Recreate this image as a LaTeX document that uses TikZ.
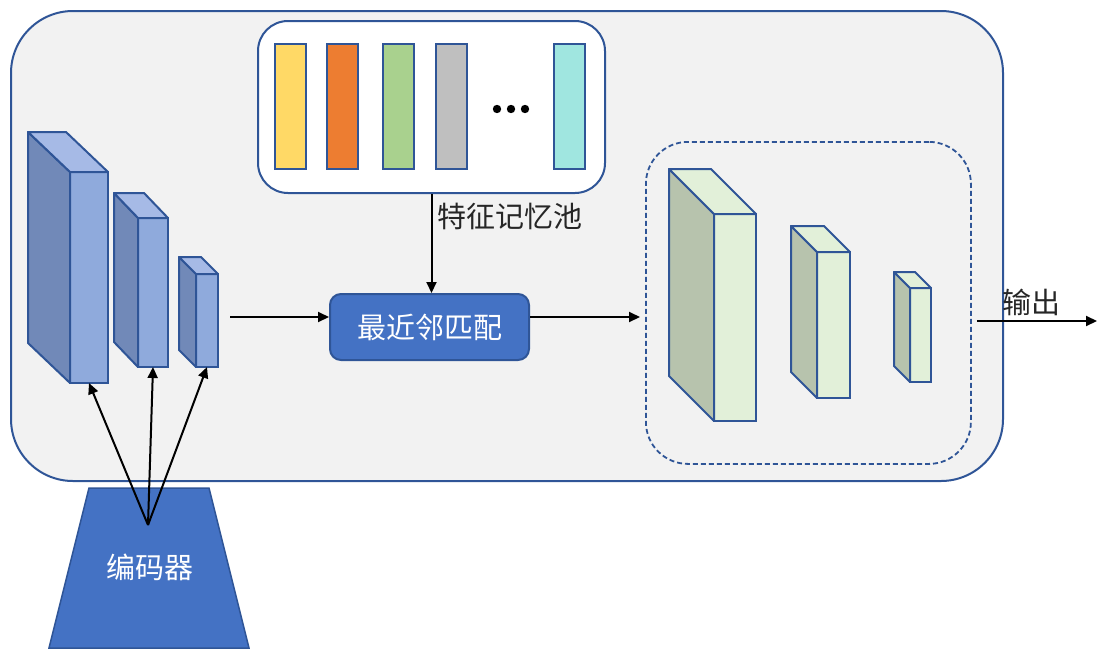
\documentclass[tikz,border=0pt]{standalone}
\usepackage{fontspec}
\setmainfont{Noto Sans CJK SC}
\usetikzlibrary{arrows.meta,calc}
\definecolor{edgeblue}{HTML}{2F5597}
\definecolor{fillblue}{HTML}{4472C4}
\definecolor{panel}{HTML}{F2F2F2}
\definecolor{encfront}{HTML}{8FAADC}
\definecolor{encside}{HTML}{7189B8}
\definecolor{enctop}{HTML}{A6BAE6}
\definecolor{decfront}{HTML}{E2F0D9}
\definecolor{decside}{HTML}{B7C3AD}
\definecolor{dectop}{HTML}{E2F0D9}
\definecolor{cyellow}{HTML}{FFD966}
\definecolor{corange}{HTML}{ED7D31}
\definecolor{cgreen}{HTML}{A9D18E}
\definecolor{cgray}{HTML}{BFBFBF}
\definecolor{ccyan}{HTML}{A0E6E0}
\definecolor{labeltext}{HTML}{262626}
% front face of a block, then its side and top faces from the depth offset
\newcommand{\blockfaces}[5]{%
  \filldraw[facestyle, fill=#4] (#1.north west) -- ++(-#2,-#3)
    -- ($(#1.south west)+(-#2,-#3)$) -- (#1.south west) -- cycle;
  \filldraw[facestyle, fill=#5] (#1.north west) -- ++(-#2,-#3)
    -- ($(#1.north east)+(-#2,-#3)$) -- (#1.north east) -- cycle;
}
\begin{document}
\begin{tikzpicture}[x=1pt, y=-1pt,
  facestyle/.style={draw=edgeblue, line width=2pt, line join=round},
  front/.style={draw=edgeblue, line width=2pt, inner sep=0pt, outer sep=0pt, anchor=north west},
  bar/.style={draw=edgeblue, line width=2pt, inner sep=0pt, outer sep=0pt, anchor=north west,
              minimum width=31pt, minimum height=125pt},
  arrow/.style={draw=black, line width=2pt, -{Triangle[length=11pt, width=10pt]}},
  label/.style={text=labeltext, font=\fontsize{29}{31}\selectfont, inner sep=0pt},
  whitetext/.style={text=white, font=\fontsize{29}{31}\selectfont, inner sep=0pt}]
\useasboundingbox (0,0) rectangle (1097,648);

% outer panel
\node[draw=edgeblue, fill=panel, line width=2pt, rounded corners=62pt, inner sep=0pt,
      minimum width=992pt, minimum height=470pt, anchor=north west] (panel) at (10,10) {};

% feature memory pool
\node[draw=edgeblue, fill=white, line width=2pt, rounded corners=30pt, inner sep=0pt,
      minimum width=347pt, minimum height=172pt, anchor=north west] (mem) at (257,20) {};
\node[bar, fill=cyellow] (m1) at (275,44) {};
\node[bar, fill=corange] (m2) at (327,44) {};
\node[bar, fill=cgreen]  (m3) at (383,44) {};
\node[bar, fill=cgray]   (m4) at (436,44) {};
\node[bar, fill=ccyan]   (m5) at (554,44) {};
\foreach \x in {497,511,525} \fill[black] (\x,109) circle (4.2pt);

% nearest-neighbour matching
\node[draw=edgeblue, fill=fillblue, line width=2pt, rounded corners=11pt, inner sep=0pt,
      minimum width=199pt, minimum height=66pt, anchor=north west] (match) at (329,293) {};
\node[whitetext] at (match.center) {最近邻匹配};

% encoder feature blocks
\node[front, fill=encfront, minimum width=38pt, minimum height=211pt] (e1) at (70,172) {};
\blockfaces{e1}{42}{40}{encside}{enctop}
\node[front, fill=encfront, minimum width=30pt, minimum height=149pt] (e2) at (138,218) {};
\blockfaces{e2}{24}{25}{encside}{enctop}
\node[front, fill=encfront, minimum width=22pt, minimum height=93pt] (e3) at (196,274) {};
\blockfaces{e3}{17}{17}{encside}{enctop}

% decoder region and blocks
\node[draw=edgeblue, dash pattern=on 5pt off 3pt, line width=1.8pt, rounded corners=42pt, inner sep=0pt,
      minimum width=325pt, minimum height=322pt, anchor=north west] (dec) at (645,141) {};
\node[front, fill=decfront, minimum width=42pt, minimum height=207pt] (d1) at (714,214) {};
\blockfaces{d1}{45}{45}{decside}{dectop}
\node[front, fill=decfront, minimum width=33pt, minimum height=146pt] (d2) at (817,252) {};
\blockfaces{d2}{26}{26}{decside}{dectop}
\node[front, fill=decfront, minimum width=21pt, minimum height=94pt] (d3) at (910,288) {};
\blockfaces{d3}{16}{16}{decside}{dectop}

% encoder
\filldraw[draw=edgeblue, fill=fillblue, line width=1.5pt] (89,488) -- (209,488) -- (249,648) -- (49,648) -- cycle;
\node[whitetext] (enc) at (150,567) {编码器};
\coordinate (apex) at (148,525);

% connectors
\coordinate (inA) at (230,317);
\coordinate (toDec) at (640,317);
\coordinate (outEnd) at (1097,321);
\draw[arrow] (mem.south) -- (mem.south |- match.north);
\node[label, anchor=west] at (437,216) {特征记忆池};
\draw[arrow] (inA) -- (inA -| match.west);
\draw[arrow] (match.east |- inA) -- (toDec);
\draw[arrow] ($(dec.east |- outEnd)+(5,0)$) -- (outEnd);
\node[label, anchor=west] at (1002,302) {输出};
\draw[arrow] (apex) -- (e1.south);
\draw[arrow] (apex) -- (e2.south);
\draw[arrow] (apex) -- (e3.south);
\end{tikzpicture}
\end{document}
